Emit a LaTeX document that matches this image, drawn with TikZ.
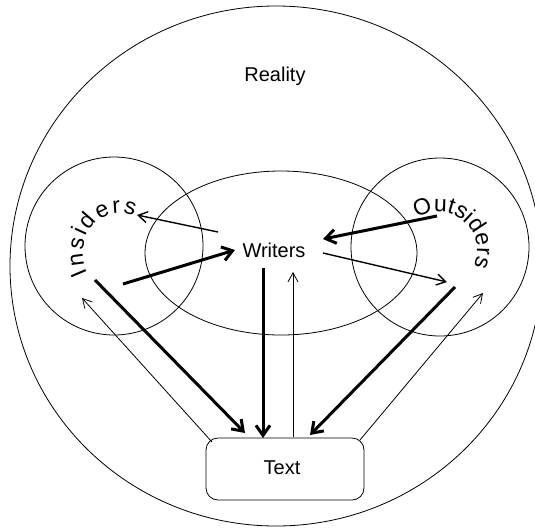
\documentclass[tikz,border=0pt]{standalone}
\usepackage{fontspec}
\setmainfont{Liberation Sans}
\usetikzlibrary{arrows.meta,decorations.text,shapes.geometric}
\newcommand\arcfont{\fontsize{23}{27}\selectfont}
\begin{document}
\begin{tikzpicture}[x=1pt,y=1pt,
  ring/.style={draw, line width=0.8pt, inner sep=0pt},
  lbl/.style={font=\fontsize{20}{24}\selectfont, inner sep=0pt},
  thin arrow/.style={line width=0.8pt, -{Straight Barb[length=9pt,width=10pt]}},
  mid arrow/.style={line width=1.4pt, -{Straight Barb[length=9pt,width=11pt]}},
  thick arrow/.style={line width=3pt, -{Straight Barb[length=10pt,width=14pt]}},
]
\useasboundingbox (0,0) rectangle (535,-531);

% regions
\node[ring, ellipse, minimum width=532pt, minimum height=520pt] (reality) at (276,-266) {};
\node[ring, circle, minimum size=178pt] (ins) at (114,-246) {};
\node[ring, circle, minimum size=178pt] (outs) at (440,-247) {};
\node[ring, ellipse, minimum width=272pt, minimum height=164pt] (wr) at (281,-253) {};
\node[ring, rectangle, rounded corners=12pt, minimum width=158pt, minimum height=62pt] (txt) at (285,-469) {};

% labels
\node[lbl] (realitylbl) at (275,-76) {Reality};
\node[lbl] (wrlbl) at (274,-250) {Writers};
\node[lbl] (txtlbl) at (282,-468) {Text};

% curved group names
\path[decorate, decoration={text along path, text={|\arcfont|Insiders}, text align={fit to path}}]
  (119,-253) ++(210:36pt and 40pt) arc[start angle=210, end angle=66, x radius=36pt, y radius=40pt];
\path[decorate, decoration={text along path, text={|\arcfont|Outsiders}, text align={fit to path}}]
  (439,-250) ++(125:38pt) arc[start angle=125, end angle=-25, radius=38pt];

% arrow end points
\coordinate (a1s) at (218,-232); \coordinate (a1e) at (137,-215);
\coordinate (a2s) at (123,-284); \coordinate (a2e) at (235,-250);
\coordinate (a3s) at (437,-216); \coordinate (a3e) at (323,-239);
\coordinate (a4s) at (323,-253); \coordinate (a4e) at (447,-282);
\coordinate (a5s) at (95,-280);  \coordinate (a5e) at (245,-433);
\coordinate (a6s) at (212,-442); \coordinate (a6e) at (82,-298);
\coordinate (a7s) at (263,-268); \coordinate (a7e) at (263,-438);
\coordinate (a8s) at (293,-437); \coordinate (a8e) at (293,-272);
\coordinate (a9s) at (455,-287); \coordinate (a9e) at (310,-435);
\coordinate (a10s) at (360,-440); \coordinate (a10e) at (483,-293);

% flows
\draw[mid arrow] (a1s) -- (a1e);
\draw[thick arrow] (a2s) -- (a2e);
\draw[thick arrow] (a3s) -- (a3e);
\draw[mid arrow] (a4s) -- (a4e);
\draw[thick arrow] (a5s) -- (a5e);
\draw[thin arrow] (a6s) -- (a6e);
\draw[thick arrow] (a7s) -- (a7e);
\draw[thin arrow] (a8s) -- (a8e);
\draw[thick arrow] (a9s) -- (a9e);
\draw[thin arrow] (a10s) -- (a10e);
\end{tikzpicture}
\end{document}
